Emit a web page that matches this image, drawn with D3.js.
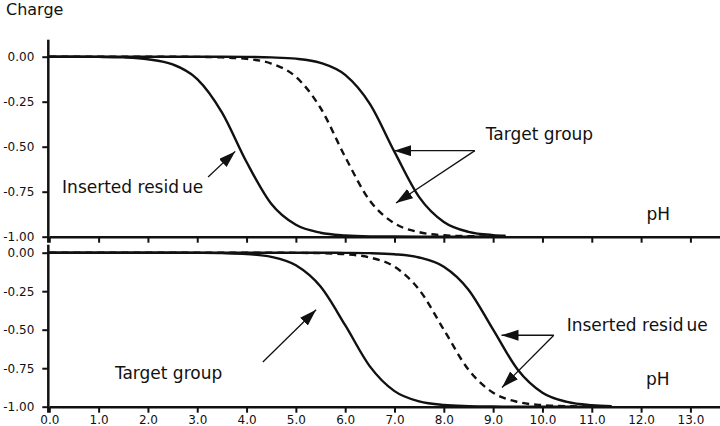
<!DOCTYPE html>
<html lang="en">
<head>
<meta charset="UTF-8">
<title>charge vs pH</title>
<script src="https://cdn.jsdelivr.net/npm/d3@7/dist/d3.min.js"></script>
<style>
	body { margin: 0; background: #fff; }
	text { font-family: "DejaVu Sans", Verdana, sans-serif; fill: #111; }
</style>
</head>
<body>
<div id="chart"></div>
<script>
// pH grid of each panel and the charge
const phTop = [0, 0.5, 1, 1.5, 2, 2.5, 3, 3.5, 4, 4.5, 5, 5.5, 6, 6.5, 7, 7.5, 8, 8.5, 9, 9.25];
const insertedTop = [0, 0, -0.001, -0.004, -0.014, -0.043, -0.124, -0.309, -0.585, -0.817, -0.934, -0.978, -0.993, -0.998, -0.999, -1, -1, -1, -1, -1];
const dashedTop = [0, 0, 0, 0, 0, 0, -0.001, -0.004, -0.012, -0.038, -0.112, -0.285, -0.557, -0.80, -0.926, -0.975, -0.992, -0.997, -0.999, -1];
const targetTop = [0, 0, 0, 0, 0, 0, 0, 0, -0.001, -0.004, -0.011, -0.034, -0.101, -0.262, -0.529, -0.78, -0.918, -0.973, -0.991, -0.995];

const phBottom = [0, 0.5, 1, 1.5, 2, 2.5, 3, 3.5, 4, 4.5, 5, 5.5, 6, 6.5, 7, 7.5, 8, 8.5, 9, 9.5, 10, 10.5, 11, 11.4];
const targetBottom = [0, 0, 0, 0, 0, 0, -0.001, -0.003, -0.009, -0.027, -0.082, -0.22, -0.471, -0.738, -0.899, -0.966, -0.989, -0.996, -0.999, -1, -1, -1, -1, -1];
const dashedBottom = [0, 0, 0, 0, 0, 0, 0, 0, 0, 0, -0.001, -0.003, -0.01, -0.031, -0.091, -0.24, -0.5, -0.76, -0.909, -0.969, -0.99, -0.997, -0.999, -1];
const insertedBottom = [0, 0, 0, 0, 0, 0, 0, 0, 0, 0, 0, 0, -0.001, -0.003, -0.01, -0.031, -0.091, -0.24, -0.5, -0.76, -0.909, -0.969, -0.99, -0.996];

const xTicks = [0, 1, 2, 3, 4, 5, 6, 7, 8, 9, 10, 11, 12, 13];
const yTicks = [0, -0.25, -0.5, -0.75, -1];

// annotation labels and arrows, in data units [pH, charge]
const labelsTop = [
	{ text: 'Inserted resid', tail: 'ue', at: [0.26, -0.757] },
	{ text: 'Target group', at: [8.85, -0.463] },
	{ text: 'pH', at: [12.11, -0.907] }
];
const arrowsTop = [
	[[3.22, -0.668], [3.77, -0.526]],
	[[8.63, -0.522], [6.99, -0.522]],
	[[8.63, -0.522], [7.03, -0.813]]
];
const labelsBottom = [
	{ text: 'Target group', at: [1.33, -0.82] },
	{ text: 'Inserted resid', tail: 'ue', at: [10.49, -0.506] },
	{ text: 'pH', at: [12.1, -0.859] }
];
const arrowsBottom = [
	[[4.33, -0.71], [5.41, -0.37]],
	[[10.23, -0.536], [9.17, -0.536]],
	[[10.23, -0.536], [9.18, -0.875]]
];

let width = 720,
	height = 426;

let x = d3.scaleLinear().domain([0, 13.6]).range([49.3, 720]);
let yTop = d3.scaleLinear().domain([-1, 0]).range([236.7, 56.7]);
let yBottom = d3.scaleLinear().domain([-1, 0]).range([406.7, 252.7]);

let svg = d3.select('#chart')
	.append('svg')
	.attr('width', width)
	.attr('height', height);

svg.append('defs').append('marker')
	.attr('id', 'head')
	.attr('markerUnits', 'userSpaceOnUse')
	.attr('markerWidth', 18)
	.attr('markerHeight', 12)
	.attr('refX', 17)
	.attr('refY', 5.5)
	.attr('orient', 'auto')
	.append('path')
	.attr('d', 'M0,0 L17,5.5 L0,11 Z')
	.attr('fill', '#111');

svg.append('text')
	.attr('x', 6)
	.attr('y', 15)
	.attr('font-size', '16px')
	.text('Charge');

function panel(y, ph, series, labels, arrows, showLabels, topExtra) {
	let g = svg.append('g');

	// y axis
	let ya = g.append('g')
		.attr('transform', `translate(${x(0) - 1},0)`)
		.call(d3.axisLeft(y).tickValues(yTicks).tickSize(6).tickPadding(8)
			.tickFormat(d => d.toFixed(2)));
	ya.select('.domain').remove();
	ya.selectAll('.tick line').attr('stroke', '#111').attr('stroke-width', 2);
	ya.selectAll('.tick text').attr('font-size', '12px')
		.style('font-family', '"DejaVu Sans", Verdana, sans-serif');
	g.append('line')
		.attr('x1', x(0) - 1).attr('x2', x(0) - 1)
		.attr('y1', y(0) - topExtra).attr('y2', y(-1) + 6)
		.attr('stroke', '#111').attr('stroke-width', 2.5);

	// x axis
	let xa = g.append('g')
		.attr('transform', `translate(0,${y(-1)})`)
		.call(d3.axisBottom(x).tickValues(xTicks).tickSize(6).tickSizeOuter(0).tickPadding(3)
			.tickFormat(showLabels ? d3.format('.1f') : ''));
	xa.select('.domain').attr('stroke', '#111').attr('stroke-width', 2.5);
	xa.selectAll('.tick line').attr('stroke', '#111').attr('stroke-width', 2);
	xa.selectAll('.tick text').attr('font-size', '12px')
		.style('font-family', '"DejaVu Sans", Verdana, sans-serif');

	let line = d3.line()
		.x(d => x(d[0]))
		.y(d => y(d[1]))
		.curve(d3.curveMonotoneX);

	series.forEach(s => {
		g.append('path')
			.datum(ph.map((p, i) => [p, s.values[i]]))
			.attr('d', line)
			.attr('fill', 'none')
			.attr('stroke', '#111')
			.attr('stroke-width', 2.4)
			.attr('stroke-dasharray', s.dashed ? '7,5' : null);
	});

	arrows.forEach(a => {
		g.append('line')
			.attr('x1', x(a[0][0])).attr('y1', y(a[0][1]))
			.attr('x2', x(a[1][0])).attr('y2', y(a[1][1]))
			.attr('stroke', '#111')
			.attr('stroke-width', 1.3)
			.attr('marker-end', 'url(#head)');
	});

	labels.forEach(l => {
		let t = g.append('text')
			.attr('x', x(l.at[0]))
			.attr('y', y(l.at[1]))
			.attr('font-size', '17px')
			.text(l.text);
		if (l.tail) t.append('tspan').attr('dx', 3).text(l.tail);
	});
}

panel(yTop, phTop, [
	{ values: insertedTop },
	{ values: dashedTop, dashed: true },
	{ values: targetTop }
], labelsTop, arrowsTop, false, 17);

panel(yBottom, phBottom, [
	{ values: targetBottom },
	{ values: dashedBottom, dashed: true },
	{ values: insertedBottom }
], labelsBottom, arrowsBottom, true, 8);
</script>
</body>
</html>
